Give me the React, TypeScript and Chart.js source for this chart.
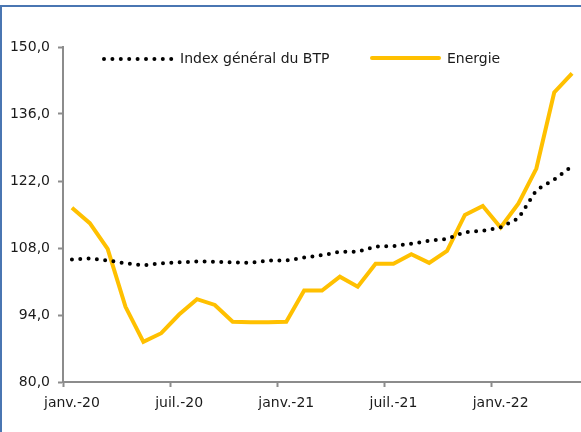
import React, { useEffect, useRef } from "react";
import { Chart, registerables } from "chart.js";

Chart.register(...registerables);

const MONTHS = ["janv.", "févr.", "mars", "avr.", "mai", "juin", "juil.", "août", "sept.", "oct.", "nov.", "déc."];
const YEARS = ["20", "21", "22"];
const categories: string[] = [];
for (const y of YEARS) for (const m of MONTHS) categories.push(`${m}-${y}`);
const labels = categories.slice(0, 29);

const btpValues = [105.6, 105.8, 105.4, 104.8, 104.4, 104.8, 105.0, 105.2, 105.1, 105.0, 104.9, 105.4, 105.4, 106.0, 106.5, 107.2, 107.2, 108.3, 108.4, 108.9, 109.5, 109.9, 111.3, 111.6, 112.3, 114.2, 120.1, 122.3, 125.1];
const energieValues = [116.4, 113.2, 107.8, 95.7, 88.4, 90.2, 94.1, 97.3, 96.1, 92.6, 92.5, 92.5, 92.6, 99.1, 99.1, 102.0, 99.9, 104.7, 104.7, 106.7, 104.9, 107.4, 114.9, 116.8, 112.3, 117.3, 124.6, 140.5, 144.5];
const seriesNames = ["Index général du BTP", "Energie"];

const FONT = "'DejaVu Sans', sans-serif";
const TEXT = "#1a1a1a";
const AXIS = "#8c8c8c";
const YELLOW = "#FFC000";

const legendPlugin = {
  id: "customLegend",
  afterDraw(chart: any) {
    const { ctx, chartArea } = chart;
    const y = chartArea.top + 12;
    ctx.save();
    ctx.font = `14px ${FONT}`;
    ctx.fillStyle = TEXT;
    ctx.textBaseline = "middle";
    // dotted sample
    ctx.beginPath();
    ctx.strokeStyle = "#000";
    ctx.lineWidth = 4;
    ctx.lineCap = "round";
    ctx.setLineDash([0, 8.4]);
    ctx.moveTo(chartArea.left + 41, y);
    ctx.lineTo(chartArea.left + 109, y);
    ctx.stroke();
    ctx.setLineDash([]);
    ctx.fillText(seriesNames[0], chartArea.left + 117, y);
    // solid sample
    ctx.beginPath();
    ctx.strokeStyle = YELLOW;
    ctx.lineWidth = 4;
    ctx.lineCap = "round";
    ctx.moveTo(chartArea.left + 309, y - 1);
    ctx.lineTo(chartArea.left + 376, y - 1);
    ctx.stroke();
    ctx.fillText(seriesNames[1], chartArea.left + 384, y);
    ctx.restore();
  },
};

export default function App() {
  const ref = useRef<HTMLCanvasElement>(null);
  useEffect(() => {
    if (!ref.current) return;
    const chart = new Chart(ref.current, {
      type: "line",
      data: {
        labels,
        datasets: [
          {
            label: seriesNames[0],
            data: btpValues,
            borderColor: "#000",
            borderWidth: 4,
            borderDash: [0, 8.33],
            borderCapStyle: "round",
            pointRadius: 0,
            tension: 0,
          },
          {
            label: seriesNames[1],
            data: energieValues,
            borderColor: YELLOW,
            borderWidth: 4,
            pointRadius: 0,
            tension: 0,
          },
        ],
      },
      options: {
        responsive: false,
        animation: false,
        layout: { padding: { top: 47, left: 0, right: 0, bottom: 0 } },
        plugins: { legend: { display: false }, tooltip: { enabled: false } },
        scales: {
          x: {
            type: "category",
            offset: true,
            afterFit: (s: any) => {
              s.height = 50;
            },
            grid: {
              offset: true,
              drawOnChartArea: false,
              tickLength: 5,
              tickWidth: 2,
              color: (c: any) => (c.index % 6 === 0 ? AXIS : "rgba(0,0,0,0)"),
              tickColor: (c: any) => (c.index % 6 === 0 ? AXIS : "rgba(0,0,0,0)"),
            },
            border: { color: AXIS, width: 2 },
            ticks: {
              autoSkip: false,
              maxRotation: 0,
              padding: 8,
              color: TEXT,
              font: { family: FONT, size: 14 },
              callback: (_v: any, i: number) => (i % 6 === 0 ? labels[i] : ""),
            },
          },
          y: {
            min: 80,
            max: 150,
            afterFit: (s: any) => {
              s.width = 63;
            },
            grid: { drawOnChartArea: false, tickLength: 5, tickWidth: 2, color: AXIS },
            border: { color: AXIS, width: 2 },
            ticks: {
              stepSize: 14,
              padding: 8,
              color: TEXT,
              font: { family: FONT, size: 14 },
              callback: (v: any) => Number(v).toFixed(1).replace(".", ","),
            },
          },
        },
      },
      plugins: [legendPlugin],
    });
    return () => chart.destroy();
  }, []);
  return (
    <div style={{ position: "absolute", left: 0, top: 0, width: 581, height: 432, overflow: "hidden", background: "#fff" }}>
      <div
        style={{
          position: "absolute",
          left: 0,
          top: 5,
          width: 600,
          height: 440,
          borderTop: "2px solid #4a76b2",
          borderLeft: "2px solid #4a76b2",
        }}
      />
      <canvas ref={ref} width={581} height={432} style={{ position: "absolute", left: 0, top: 0, width: 581, height: 432 }} />
    </div>
  );
}
